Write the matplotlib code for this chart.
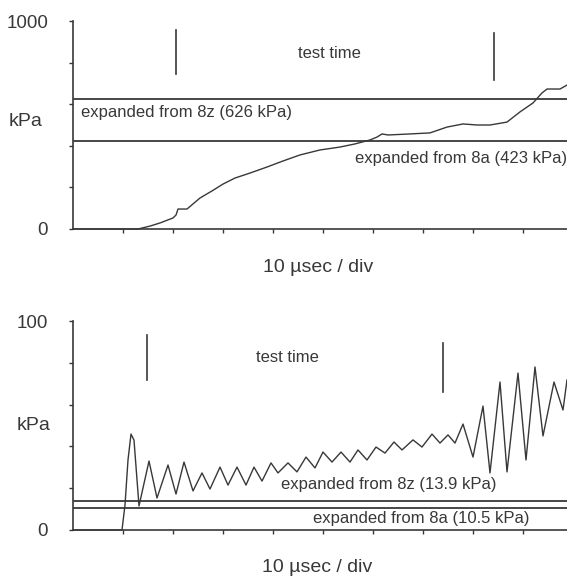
import numpy as np
import matplotlib.pyplot as plt

# pressure traces (time in usec, pressure in kPa)
top_t = [0, 13.0, 15.4, 17.4, 20.0, 20.6, 21.0, 22.8, 25.4, 27.8, 30.0, 32.4, 35.4,
         38.8, 42.0, 45.4, 49.4, 53.4, 56.4, 59.4, 60.8, 61.8, 63.0, 67.4, 71.4,
         74.8, 78.0, 80.8, 83.4, 86.8, 89.4, 92.0, 93.8, 94.8, 97.4, 98.8]
top_p = [0, 0, 14, 29, 53, 67, 96, 96, 149, 183, 216, 245, 269,
         298, 327, 356, 380, 394, 409, 428, 442, 457, 452, 457, 462,
         490, 505, 500, 500, 514, 563, 606, 654, 673, 673, 692]

bot_t = [0, 9.8, 10.4, 11.0, 11.6, 12.2, 13.2, 15.2, 16.8, 19.0, 20.6, 22.2, 24.0,
         25.8, 27.4, 29.4, 31.0, 32.8, 34.6, 36.2, 37.8, 39.6, 41.0, 43.0, 44.8,
         46.6, 48.4, 50.0, 51.8, 53.6, 55.4, 57.0, 58.8, 60.6, 62.4, 64.2, 65.8,
         68.0, 69.8, 71.8, 73.4, 75.0, 76.4, 78.0, 80.0, 82.0, 83.4, 85.4, 86.8,
         89.0, 90.6, 92.4, 94.0, 96.2, 98.0, 98.8]
bot_p = [0, 0, 12, 33.5, 45.9, 43, 11.5, 33, 15.3, 31.1, 17.2, 32.5, 18.7,
         27.3, 19.6, 30.1, 21.5, 30.1, 21.5, 30.1, 23.4, 32.1, 27.3, 32.1, 27.8,
         34.9, 29.7, 37.3, 32.5, 37.3, 32.5, 38.3, 33.5, 39.7, 36.8, 42.1, 38.3,
         43.1, 39.7, 45.9, 41.6, 45.5, 41.6, 50.7, 34.9, 59.3, 27.3, 70.8, 27.8,
         75.1, 33.5, 78.0, 45.0, 70.8, 57.4, 71.8]

top_ref = [626, 423]          # expanded from 8z, 8a
bot_ref = [13.9, 10.5]
top_test = [20.6, 84.2]       # test time markers
bot_test = [14.8, 74.0]

W, H = 567, 579
ink = '#383838'
plt.rcParams['font.family'] = ['Liberation Sans', 'DejaVu Sans']

fig = plt.figure(figsize=(W / 100, H / 100), dpi=100, facecolor='white')

def px_axes(left, top, bottom):
    return fig.add_axes([left / W, 1 - bottom / H, 1 - left / W, (bottom - top) / H])

def style(ax, ymax, ystep):
    ax.set_xlim(0, (W - 73) / 5)
    ax.set_ylim(0, ymax)
    for s in ['top', 'right']:
        ax.spines[s].set_visible(False)
    for s in ['left', 'bottom']:
        ax.spines[s].set_color(ink)
        ax.spines[s].set_linewidth(1.2)
    ax.set_xticks(np.arange(10, 100, 10))
    ax.set_xticklabels([])
    yt = np.arange(0, ymax + ystep / 2, ystep)
    ax.set_yticks(yt)
    ax.set_yticklabels([str(int(v)) if v in (0, ymax) else '' for v in yt])
    ax.tick_params(colors=ink, length=3, width=1, labelsize=13.5, pad=15)
    ax.set_facecolor('none')

# upper panel
ax1 = px_axes(73, 21, 229)
style(ax1, 1000, 200)
ax1.plot(top_t, top_p, color=ink, lw=1.0, clip_on=False, solid_joinstyle='round')
for v in top_ref:
    ax1.axhline(v, color=ink, lw=1.3)
for t, (y0, y1) in zip(top_test, [(745, 957), (716, 942)]):
    ax1.plot([t, t], [y0, y1], color=ink, lw=1.2)
ax1.text(51.2, 846, 'test time', ha='center', va='center', fontsize=12, color=ink)
ax1.text(1.6, 562, 'expanded from 8z (626 kPa)', ha='left', va='center', fontsize=12, color=ink)
ax1.text(56.4, 341, 'expanded from 8a (423 kPa)', ha='left', va='center', fontsize=12,
         color=ink, clip_on=False)

# lower panel
ax2 = px_axes(73, 321, 530)
style(ax2, 100, 20)
ax2.plot(bot_t, bot_p, color=ink, lw=1.0, clip_on=False, solid_joinstyle='round')
for v in bot_ref:
    ax2.axhline(v, color=ink, lw=1.3)
for t, (y0, y1) in zip(bot_test, [(71.8, 93.3), (66.0, 89.5)]):
    ax2.plot([t, t], [y0, y1], color=ink, lw=1.2)
ax2.text(42.8, 82.3, 'test time', ha='center', va='center', fontsize=12, color=ink)
ax2.text(41.6, 22.0, 'expanded from 8z (13.9 kPa)', ha='left', va='center', fontsize=12, color=ink)
ax2.text(48.0, 5.3, 'expanded from 8a (10.5 kPa)', ha='left', va='center', fontsize=12, color=ink)

# axis titles
fig.text(26 / W, 1 - 122 / H, 'kPa', ha='center', va='center', fontsize=14, color=ink)
fig.text(34 / W, 1 - 425 / H, 'kPa', ha='center', va='center', fontsize=14, color=ink)
fig.text(318 / W, 1 - 267 / H, '10 µsec / div', ha='center', va='center', fontsize=14, color=ink)
fig.text(317 / W, 1 - 568 / H, '10 µsec / div', ha='center', va='center', fontsize=14, color=ink)

fig.savefig('out.png', dpi=100, facecolor='white')
